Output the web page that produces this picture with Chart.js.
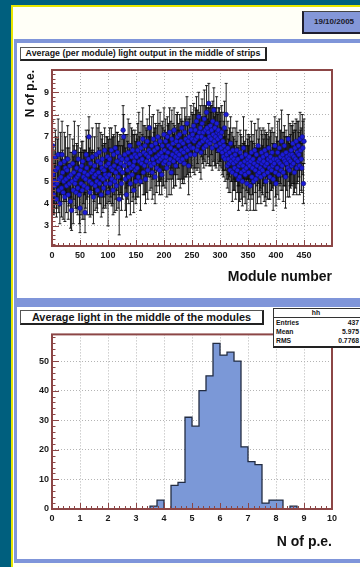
<!DOCTYPE html>
<html>
<head>
<meta charset="utf-8">
<script src="https://cdn.jsdelivr.net/npm/chart.js@4.4.0/dist/chart.umd.min.js"></script>
<style>
html, body { margin: 0; padding: 0; }
body { width: 360px; height: 567px; background: #005f7e; position: relative; overflow: hidden;
       font-family: "Liberation Sans", Arial, sans-serif; font-weight: bold; color: #151515; }
.abs { position: absolute; box-sizing: border-box; }
#page { left: 11px; top: 5px; width: 349px; height: 562px; background: #fffff7;
        border-left: 2px solid #e6e600; border-top: 2px solid #e6e600; }
#panel1 { left: 14px; top: 39px; width: 346px; height: 259px; background: #fff;
          border-top: 4px solid #7f95d9; border-left: 3px solid #7f95d9; }
#panel2 { left: 14px; top: 298px; width: 346px; height: 265px; background: #fff;
          border-top: 9px solid #7f95d9; border-left: 3px solid #7f95d9; border-bottom: 4px solid #7f95d9; }
#date { left: 302px; top: 11px; width: 62px; height: 23px; background: #8497d8;
        border: 1px solid #444; border-left: 2px solid #1e1e2e; border-bottom: 2px solid #1e1e2e;
        font-size: 8px; line-height: 20px; padding-left: 10px; color: #1a1a2a; }
.tbox { background: #fff; border: 1px solid #555; border-right: 2px solid #222; border-bottom: 2px solid #222;
        text-align: center; white-space: nowrap; }
#title1 { left: 20px; top: 47px; width: 247px; height: 14px; font-size: 8.8px; line-height: 11px; }
#title2 { left: 20px; top: 310px; width: 244px; height: 15px; font-size: 10.9px; line-height: 12px; }
#stats { left: 273px; top: 308px; width: 90px; height: 40px; background: #fff; border: 1px solid #333;
         border-bottom: 2px solid #222; font-size: 6.8px; z-index: 5; color: #151515; }
#stats .hd { text-align: center; height: 8px; line-height: 8px; border-bottom: 1px solid #333; padding-right: 4px; color: #151515; }
#stats .row { height: 9px; line-height: 9px; padding: 0 3px 0 2px; display: flex; justify-content: space-between; }
canvas { position: absolute; }
</style>
</head>
<body>
<div id="page" class="abs"></div>
<div id="date" class="abs">19/10/2005</div>
<div id="panel1" class="abs"></div>
<div id="panel2" class="abs"></div>
<div id="title1" class="abs tbox">Average (per module) light output in the middle of strips</div>
<div id="title2" class="abs tbox">Average light in the middle of the modules</div>
<div id="stats" class="abs">
  <div class="hd">hh</div>
  <div class="row"><span>Entries</span><span>437</span></div>
  <div class="row"><span>Mean</span><span>5.975</span></div>
  <div class="row"><span>RMS</span><span>0.7768</span></div>
</div>
<canvas id="c1" width="346" height="232" style="left:14px;top:60px"></canvas>
<canvas id="c2" width="346" height="230" style="left:14px;top:326px"></canvas>
<script>
// light output per module (module number = position + 1)
const lightValues = [
  6.6,5.3,4.4,5.0,4.8,6.1,5.5,4.2,4.9,5.6,6.2,4.6,5.1,4.0,5.8,5.2,4.7,6.2,5.4,4.5,5.0,5.9,4.3,5.6,5.1,
  4.8,5.5,6.0,4.4,5.2,4.9,5.7,4.1,5.3,3.7,5.0,5.8,4.6,5.4,6.3,4.9,5.1,4.5,5.6,5.2,4.7,6.0,5.3,4.4,3.8,
  5.5,4.9,5.7,4.6,5.9,5.2,4.8,5.4,3.6,5.1,6.2,5.6,4.7,5.3,6.0,7.0,5.0,4.5,5.8,5.4,4.9,6.1,5.5,4.3,5.2,
  5.7,4.8,5.3,6.2,5.0,4.6,5.9,5.4,6.3,4.9,5.2,5.8,4.4,5.6,6.0,5.1,4.7,5.5,6.4,5.3,4.9,5.7,5.2,6.1,4.5,
  5.8,5.3,6.0,4.9,5.6,6.4,5.1,5.5,4.6,6.2,5.7,5.0,6.5,5.4,4.8,5.9,6.3,5.2,5.6,4.2,6.1,5.5,5.8,4.9,6.0,
  5.4,7.3,7.0,5.7,6.2,5.1,5.9,4.4,6.0,5.5,6.3,5.2,5.8,6.6,4.9,5.6,6.1,5.3,6.4,5.7,4.6,5.9,6.2,5.5,5.0,
  6.1,5.6,6.4,5.2,6.7,5.9,6.2,5.0,6.5,5.8,6.0,6.9,5.4,6.3,5.7,6.6,5.1,6.2,5.9,6.8,5.5,6.1,6.4,7.4,5.8,
  6.3,5.7,6.6,5.4,6.0,6.9,5.8,6.4,5.2,6.7,6.1,5.6,6.5,7.0,5.9,6.2,5.5,6.8,6.0,6.3,5.3,6.6,6.1,5.8,7.1,
  6.4,5.9,6.8,6.1,5.6,7.0,6.3,6.6,5.8,7.2,6.0,6.5,5.4,6.9,6.2,6.7,5.9,7.3,6.4,6.1,5.7,6.8,6.3,7.0,6.0,
  6.6,6.2,7.1,5.9,6.8,6.4,7.4,6.0,6.7,6.3,5.8,7.2,6.5,6.9,6.1,7.6,6.4,6.8,5.7,7.0,6.6,6.2,7.3,6.5,6.9,
  7.1,6.5,7.5,6.8,6.2,7.3,6.9,7.7,6.4,7.0,6.6,7.9,7.2,6.7,7.4,6.3,7.0,7.6,6.8,7.2,6.5,7.8,6.9,7.3,6.6,
  8.1,7.4,6.8,7.2,8.5,7.0,6.7,7.5,6.9,7.3,6.5,7.7,7.1,8.2,6.8,7.4,7.0,6.6,7.6,7.2,6.9,7.3,6.4,7.1,6.7,
  7.0,6.5,7.2,6.3,6.8,6.1,6.6,7.4,6.0,6.4,8.0,6.2,5.7,6.5,6.0,5.8,6.3,5.5,6.7,5.9,6.1,5.4,6.4,5.8,6.0,
  5.6,6.2,5.3,5.9,6.4,5.5,6.0,5.1,5.7,5.2,6.3,5.8,5.4,6.1,5.0,5.7,6.5,5.5,5.9,5.3,6.2,5.6,4.9,6.0,5.8,
  5.4,6.1,5.7,4.8,5.9,6.3,5.2,5.6,6.0,5.0,5.8,6.4,5.5,5.1,6.2,5.7,5.3,6.6,5.9,5.4,6.0,5.6,5.2,6.3,5.8,
  5.5,6.1,5.9,5.3,6.4,5.7,5.0,6.2,5.8,5.4,6.0,6.5,5.6,5.2,6.1,5.9,5.5,6.3,5.7,5.1,6.0,5.8,6.6,5.4,4.9,
  6.0,5.6,6.3,5.9,5.3,6.5,5.8,6.1,5.5,6.8,5.7,6.2,5.4,6.0,6.6,5.9,5.2,6.3,5.8,6.1,5.6,6.9,6.0,5.5,6.2,
  5.9,6.4,5.7,6.2,6.7,5.8,6.1,5.4,6.5,6.0,6.8,5.6,6.3,5.9,6.6,6.2,5.7,6.9,6.4,6.0,5.6,7.0,6.5,4.9,6.8
];

// error on each value
const lightErrors = [
  1.1,1.3,0.9,1.4,1.0,1.2,1.5,0.8,1.1,1.3,1.6,1.0,1.2,0.9,1.4,1.1,1.3,1.5,1.0,1.2,0.9,1.3,1.1,1.4,1.0,
  1.2,1.0,1.5,1.1,1.3,0.9,1.4,1.2,1.0,0.9,1.3,1.1,1.5,1.2,1.4,1.0,1.3,0.9,1.1,1.4,1.2,1.5,1.0,1.3,1.1,
  1.0,1.4,1.1,1.3,0.9,1.2,1.5,1.0,0.9,1.3,1.1,1.4,1.2,1.0,1.3,0.9,1.5,1.1,1.2,1.0,1.4,1.3,0.9,1.2,1.1,
  1.3,1.1,0.9,1.4,1.2,1.0,1.5,1.1,1.3,0.9,1.2,1.4,1.0,1.3,1.1,1.5,0.9,1.2,1.0,1.4,1.1,1.3,1.2,0.9,1.5,
  1.1,1.2,1.4,0.9,1.3,1.0,1.2,1.5,1.1,0.9,1.3,1.4,1.0,1.2,1.1,1.3,0.9,1.4,1.2,1.6,1.0,1.1,1.3,1.2,0.9,
  1.2,1.1,1.0,1.3,0.9,1.4,1.2,1.0,1.1,1.3,1.5,1.2,0.9,1.0,1.4,1.1,1.3,1.2,0.9,1.4,1.0,1.2,1.1,1.3,1.0,
  1.0,1.3,1.2,0.9,1.4,1.1,1.0,1.3,1.2,0.9,1.1,1.4,1.0,1.2,1.3,0.9,1.1,1.2,1.4,1.0,1.3,0.9,1.1,1.0,1.2,
  1.1,1.0,1.3,1.2,0.9,1.1,1.4,1.0,1.2,0.9,1.3,1.1,1.0,1.2,0.9,1.4,1.1,1.3,1.0,1.2,0.9,1.1,1.3,1.0,1.2,
  0.9,1.2,1.0,1.1,1.3,0.9,1.2,1.0,1.4,1.1,0.9,1.2,1.0,1.3,1.1,0.9,1.2,1.0,1.1,1.3,0.9,1.2,1.0,1.1,0.9,
  1.0,1.1,0.9,1.2,1.0,1.3,0.9,1.1,1.0,1.2,0.9,1.1,1.3,1.0,0.9,1.2,1.1,1.0,1.3,0.9,1.2,1.0,1.1,0.9,1.2,
  0.9,1.1,1.0,1.2,0.9,1.0,1.3,1.1,0.9,1.2,1.0,1.1,0.9,1.3,1.0,1.2,0.9,1.1,1.0,1.2,0.9,1.3,1.0,1.1,0.9,
  1.2,0.9,1.0,1.1,0.9,1.3,1.0,0.9,1.2,1.1,1.0,0.9,1.2,1.0,1.1,0.9,1.3,1.0,1.2,0.9,1.1,1.0,0.9,1.2,1.0,
  1.1,0.9,1.2,1.0,1.3,0.9,1.1,1.2,1.0,0.9,1.4,1.1,1.0,1.2,0.9,1.3,1.1,1.0,1.2,0.9,1.1,1.3,1.0,1.2,0.9,
  1.0,1.2,1.1,0.9,1.3,1.0,1.2,1.4,0.9,1.1,1.0,1.3,1.2,0.9,1.1,1.0,1.4,1.2,0.9,1.3,1.1,1.0,1.2,0.9,1.3,
  1.2,1.0,1.3,1.1,0.9,1.4,1.0,1.2,1.1,1.3,0.9,1.2,1.0,1.4,1.1,0.9,1.3,1.2,1.0,1.1,1.4,0.9,1.2,1.0,1.3,
  1.1,1.3,1.0,1.2,0.9,1.4,1.1,1.0,1.3,1.2,0.9,1.1,1.4,1.0,1.2,1.3,0.9,1.1,1.0,1.4,1.2,0.9,1.3,1.1,1.0,
  1.0,1.2,1.4,0.9,1.1,1.3,1.0,1.2,0.9,1.4,1.1,1.0,1.3,1.2,0.9,1.1,1.4,1.0,1.2,0.9,1.3,1.1,1.0,1.2,1.4,
  1.2,1.1,0.9,1.3,1.0,1.4,1.2,0.9,1.1,1.3,1.0,1.2,1.4,0.9,1.1,1.0,1.3,1.2,0.9,1.4,1.1,1.0,1.2,0.9,1.0
];

// histogram of the same values: bin low edges and counts
const binLowEdges = [3.5, 3.75, 4.0, 4.25, 4.5, 4.75, 5.0, 5.25, 5.5, 5.75, 6.0,
                     6.25, 6.5, 6.75, 7.0, 7.25, 7.5, 7.75, 8.0, 8.25, 8.5];
const binCounts   = [1, 3, 0, 8, 9, 31, 28, 40, 45, 56, 52,
                     53, 50, 21, 16, 15, 2, 3, 3, 0, 1];
const binWidth = 0.25;

const xTicks1 = [0, 50, 100, 150, 200, 250, 300, 350, 400, 450];
const yTicks1 = [3, 4, 5, 6, 7, 8, 9];
const xTicks2 = [0, 1, 2, 3, 4, 5, 6, 7, 8, 9, 10];
const yTicks2 = [0, 10, 20, 30, 40, 50];

const FRAME = '#8c4646';
const tickFont = { family: '"Liberation Sans", Arial, sans-serif', size: 9, weight: 'bold' };
const titleFont = { family: '"Liberation Sans", Arial, sans-serif', size: 14, weight: 'bold' };
const gridOpts = { color: '#b4b4b4', lineWidth: 1, drawTicks: false };
const borderOpts = { display: false, dash: [1, 2] };

// frame + ROOT-style inside ticks
const frameTicks = {
  id: 'frameTicks',
  afterDatasetsDraw(chart, args, o) {
    const { ctx, chartArea: a, scales: { x, y } } = chart;
    ctx.save();
    ctx.strokeStyle = o.color;
    ctx.lineWidth = 1;
    ctx.beginPath();
    const isMajor = (v, step) => Math.abs(v / step - Math.round(v / step)) < 1e-6;
    for (let k = Math.ceil(x.min / o.xMinor - 1e-9); k * o.xMinor <= x.max + 1e-9; k++) {
      const v = k * o.xMinor;
      const px = Math.round(x.getPixelForValue(v)) + 0.5;
      const len = isMajor(v, o.xMajor) ? 6 : 3;
      ctx.moveTo(px, a.bottom); ctx.lineTo(px, a.bottom - len);
    }
    for (let k = Math.ceil(y.min / o.yMinor - 1e-9); k * o.yMinor <= y.max + 1e-9; k++) {
      const v = k * o.yMinor;
      const py = Math.round(y.getPixelForValue(v)) + 0.5;
      const len = isMajor(v, o.yMajor) ? 7 : 3.5;
      ctx.moveTo(a.left, py); ctx.lineTo(a.left + len, py);
    }
    ctx.stroke();
    ctx.lineWidth = 2;
    ctx.strokeRect(a.left, a.top, a.width, a.height);
    ctx.restore();
  }
};

const errorBars = {
  id: 'errorBars',
  beforeDatasetsDraw(chart) {
    const { ctx, chartArea: a, scales: { x, y } } = chart;
    ctx.save();
    ctx.beginPath();
    ctx.rect(a.left, a.top, a.width, a.height);
    ctx.clip();
    ctx.strokeStyle = 'rgba(10,10,10,0.9)';
    ctx.lineWidth = 1;
    ctx.beginPath();
    lightValues.forEach((v, i) => {
      if (v === null) return;
      const px = x.getPixelForValue(i + 1);
      const top = y.getPixelForValue(v + lightErrors[i]);
      const bot = y.getPixelForValue(v - lightErrors[i]);
      ctx.moveTo(px, top); ctx.lineTo(px, bot);
      ctx.moveTo(px - 1.5, top); ctx.lineTo(px + 1.5, top);
      ctx.moveTo(px - 1.5, bot); ctx.lineTo(px + 1.5, bot);
    });
    ctx.stroke();
    ctx.restore();
  }
};

const onlyTicks = list => (v) => list.includes(v) ? String(v) : '';

// top chart: light output vs module
new Chart(document.getElementById('c1').getContext('2d'), {
  type: 'scatter',
  data: {
    datasets: [{
      data: lightValues.map((v, i) => ({ x: i + 1, y: v })),
      pointRadius: 2.3,
      pointBackgroundColor: '#1c1cd8',
      pointBorderColor: '#10106e',
      pointBorderWidth: 0.6
    }]
  },
  options: {
    responsive: false,
    animation: false,
    devicePixelRatio: 1,
    layout: { padding: { top: 10, right: 28, left: 0, bottom: 0 } },
    plugins: {
      legend: { display: false },
      tooltip: { enabled: false },
      frameTicks: { color: FRAME, xMinor: 10, xMajor: 50, yMinor: 0.2, yMajor: 1 }
    },
    scales: {
      x: {
        type: 'linear', min: 0, max: 500,
        grid: gridOpts, border: borderOpts,
        ticks: { stepSize: 50, padding: 4, color: '#1a1a1a', font: tickFont, maxRotation: 0,
                 callback: onlyTicks(xTicks1) },
        title: { display: true, text: 'Module number', align: 'end', color: '#111',
                 font: titleFont, padding: { top: 0, bottom: 6 } },
        afterFit: s => { s.height = 46; }
      },
      y: {
        min: 2.1, max: 10,
        grid: gridOpts, border: borderOpts,
        ticks: { stepSize: 1, padding: 3, color: '#1a1a1a', font: tickFont,
                 callback: onlyTicks(yTicks1) },
        title: { display: true, text: 'N of p.e.', align: 'end', color: '#111',
                 font: { family: titleFont.family, size: 12, weight: 'bold' }, padding: { top: 9 } },
        afterFit: s => { s.width = 38; }
      }
    }
  },
  plugins: [errorBars, frameTicks]
});

// bottom chart: histogram drawn as a filled step outline
const histPoints = [{ x: binLowEdges[0], y: 0 }]
  .concat(binLowEdges.map((e, i) => ({ x: e, y: binCounts[i] })))
  .concat([{ x: binLowEdges[binLowEdges.length - 1] + binWidth, y: 0 }]);

new Chart(document.getElementById('c2').getContext('2d'), {
  type: 'line',
  data: {
    datasets: [{
      data: histPoints,
      stepped: 'before',
      fill: 'origin',
      backgroundColor: '#7b98d7',
      borderColor: '#222c42',
      borderWidth: 1.3,
      pointRadius: 0
    }]
  },
  options: {
    responsive: false,
    animation: false,
    devicePixelRatio: 1,
    layout: { padding: { top: 7, right: 28, left: 0, bottom: 0 } },
    plugins: {
      legend: { display: false },
      tooltip: { enabled: false },
      frameTicks: { color: FRAME, xMinor: 0.2, xMajor: 1, yMinor: 2, yMajor: 10 }
    },
    scales: {
      x: {
        type: 'linear', min: 0, max: 10,
        grid: gridOpts, border: borderOpts,
        ticks: { stepSize: 1, padding: 4, color: '#1a1a1a', font: tickFont, maxRotation: 0,
                 callback: onlyTicks(xTicks2) },
        title: { display: true, text: 'N of p.e.', align: 'end', color: '#111',
                 font: titleFont, padding: { top: 0, bottom: 5 } },
        afterFit: s => { s.height = 47; }
      },
      y: {
        min: 0, max: 59,
        grid: gridOpts, border: borderOpts,
        ticks: { stepSize: 10, padding: 3, color: '#1a1a1a', font: tickFont,
                 callback: onlyTicks(yTicks2) },
        afterFit: s => { s.width = 38; }
      }
    }
  },
  plugins: [frameTicks]
});
</script>
</body>
</html>
